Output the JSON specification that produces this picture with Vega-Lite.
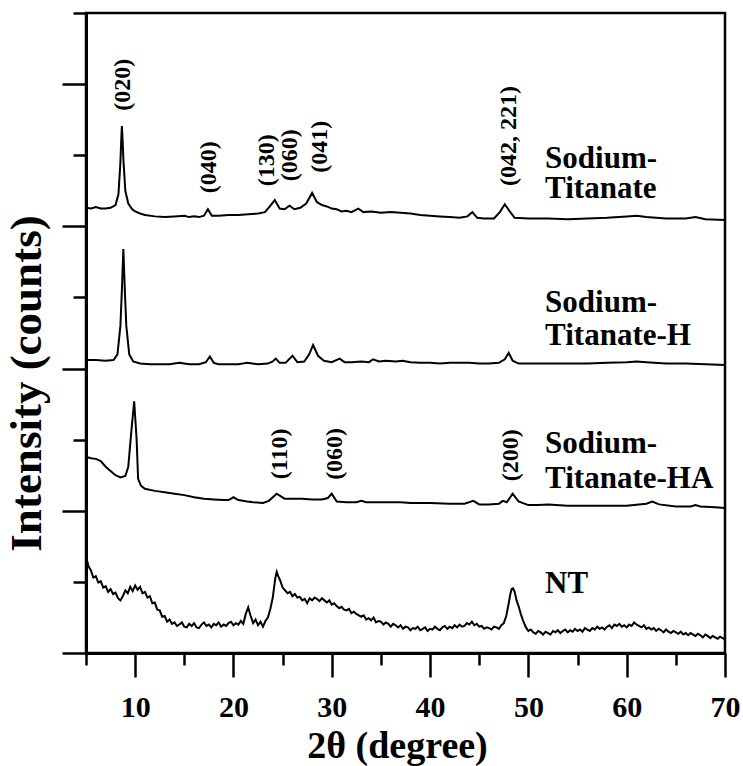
{
  "$schema": "https://vega.github.io/schema/vega-lite/v6.json",
  "width": 639,
  "height": 640,
  "autosize": {"type": "none"},
  "padding": {"left": 86, "top": 13, "right": 18, "bottom": 113},
  "background": "white",
  "config": {
    "view": {"stroke": "black", "strokeWidth": 2.5},
    "axis": {
      "grid": false,
      "domainColor": "black",
      "tickColor": "black",
      "domainWidth": 3,
      "tickWidth": 2.5,
      "labelFont": "Liberation Serif",
      "labelFontWeight": "bold",
      "labelFontSize": 30,
      "labelColor": "black",
      "titleFont": "Liberation Serif",
      "titleFontWeight": "bold",
      "titleColor": "black"
    }
  },
  "datasets": {
    "traces": [
      {"t":5,"i":6.26,"s":"ST"},{"t":5.5,"i":6.25,"s":"ST"},{"t":6,"i":6.27,"s":"ST"},{"t":6.5,"i":6.25,"s":"ST"},{"t":7,"i":6.25,"s":"ST"},{"t":7.5,"i":6.26,"s":"ST"},{"t":8,"i":6.3,"s":"ST"},{"t":8.3,"i":6.45,"s":"ST"},{"t":8.5,"i":6.9,"s":"ST"},{"t":8.58,"i":7.2,"s":"ST"},{"t":8.65,"i":7.41,"s":"ST"},{"t":8.72,"i":7.22,"s":"ST"},{"t":8.8,"i":6.95,"s":"ST"},{"t":9.0,"i":6.5,"s":"ST"},{"t":9.3,"i":6.32,"s":"ST"},{"t":9.7,"i":6.24,"s":"ST"},{"t":10,"i":6.21,"s":"ST"},{"t":10.5,"i":6.18,"s":"ST"},{"t":11,"i":6.16,"s":"ST"},{"t":12,"i":6.14,"s":"ST"},{"t":13,"i":6.13,"s":"ST"},{"t":14,"i":6.14,"s":"ST"},{"t":15,"i":6.15,"s":"ST"},{"t":15.5,"i":6.13,"s":"ST"},{"t":16,"i":6.14,"s":"ST"},{"t":16.5,"i":6.13,"s":"ST"},{"t":17,"i":6.15,"s":"ST"},{"t":17.4,"i":6.24,"s":"ST"},{"t":17.8,"i":6.15,"s":"ST"},{"t":18.5,"i":6.15,"s":"ST"},{"t":19.5,"i":6.16,"s":"ST"},{"t":20.5,"i":6.16,"s":"ST"},{"t":21.5,"i":6.17,"s":"ST"},{"t":22.5,"i":6.18,"s":"ST"},{"t":23.2,"i":6.2,"s":"ST"},{"t":23.7,"i":6.28,"s":"ST"},{"t":24.2,"i":6.37,"s":"ST"},{"t":24.7,"i":6.25,"s":"ST"},{"t":25.2,"i":6.24,"s":"ST"},{"t":25.7,"i":6.29,"s":"ST"},{"t":26.2,"i":6.24,"s":"ST"},{"t":26.8,"i":6.26,"s":"ST"},{"t":27.4,"i":6.32,"s":"ST"},{"t":28,"i":6.47,"s":"ST"},{"t":28.5,"i":6.34,"s":"ST"},{"t":29,"i":6.3,"s":"ST"},{"t":29.5,"i":6.28,"s":"ST"},{"t":30,"i":6.25,"s":"ST"},{"t":30.5,"i":6.24,"s":"ST"},{"t":31,"i":6.21,"s":"ST"},{"t":31.5,"i":6.22,"s":"ST"},{"t":32,"i":6.2,"s":"ST"},{"t":32.7,"i":6.25,"s":"ST"},{"t":33.2,"i":6.2,"s":"ST"},{"t":34,"i":6.21,"s":"ST"},{"t":35,"i":6.19,"s":"ST"},{"t":36,"i":6.2,"s":"ST"},{"t":37,"i":6.19,"s":"ST"},{"t":38,"i":6.18,"s":"ST"},{"t":39,"i":6.16,"s":"ST"},{"t":40,"i":6.15,"s":"ST"},{"t":41,"i":6.14,"s":"ST"},{"t":42,"i":6.13,"s":"ST"},{"t":43,"i":6.12,"s":"ST"},{"t":43.8,"i":6.14,"s":"ST"},{"t":44.3,"i":6.2,"s":"ST"},{"t":44.8,"i":6.12,"s":"ST"},{"t":45.5,"i":6.11,"s":"ST"},{"t":46.5,"i":6.11,"s":"ST"},{"t":47.1,"i":6.2,"s":"ST"},{"t":47.6,"i":6.31,"s":"ST"},{"t":48.1,"i":6.21,"s":"ST"},{"t":48.6,"i":6.12,"s":"ST"},{"t":50,"i":6.11,"s":"ST"},{"t":52,"i":6.11,"s":"ST"},{"t":54,"i":6.1,"s":"ST"},{"t":56,"i":6.11,"s":"ST"},{"t":58,"i":6.12,"s":"ST"},{"t":60,"i":6.14,"s":"ST"},{"t":61,"i":6.15,"s":"ST"},{"t":62,"i":6.13,"s":"ST"},{"t":64,"i":6.11,"s":"ST"},{"t":66,"i":6.11,"s":"ST"},{"t":67,"i":6.13,"s":"ST"},{"t":68,"i":6.1,"s":"ST"},{"t":70,"i":6.09,"s":"ST"},

      {"t":5,"i":4.12,"s":"STH"},{"t":6,"i":4.12,"s":"STH"},{"t":7,"i":4.11,"s":"STH"},{"t":7.8,"i":4.12,"s":"STH"},{"t":8.2,"i":4.2,"s":"STH"},{"t":8.5,"i":4.6,"s":"STH"},{"t":8.65,"i":5.1,"s":"STH"},{"t":8.8,"i":5.68,"s":"STH"},{"t":8.95,"i":5.1,"s":"STH"},{"t":9.1,"i":4.6,"s":"STH"},{"t":9.4,"i":4.2,"s":"STH"},{"t":9.8,"i":4.1,"s":"STH"},{"t":10.5,"i":4.07,"s":"STH"},{"t":11.5,"i":4.06,"s":"STH"},{"t":12.5,"i":4.06,"s":"STH"},{"t":13.5,"i":4.06,"s":"STH"},{"t":14.5,"i":4.08,"s":"STH"},{"t":15.5,"i":4.06,"s":"STH"},{"t":16.5,"i":4.06,"s":"STH"},{"t":17.2,"i":4.09,"s":"STH"},{"t":17.6,"i":4.17,"s":"STH"},{"t":18,"i":4.08,"s":"STH"},{"t":18.5,"i":4.06,"s":"STH"},{"t":19.5,"i":4.06,"s":"STH"},{"t":20.5,"i":4.06,"s":"STH"},{"t":21.4,"i":4.08,"s":"STH"},{"t":22.5,"i":4.06,"s":"STH"},{"t":23.5,"i":4.07,"s":"STH"},{"t":24,"i":4.1,"s":"STH"},{"t":24.3,"i":4.14,"s":"STH"},{"t":24.7,"i":4.08,"s":"STH"},{"t":25.3,"i":4.08,"s":"STH"},{"t":26,"i":4.18,"s":"STH"},{"t":26.5,"i":4.09,"s":"STH"},{"t":27.2,"i":4.1,"s":"STH"},{"t":27.7,"i":4.2,"s":"STH"},{"t":28.1,"i":4.33,"s":"STH"},{"t":28.6,"i":4.18,"s":"STH"},{"t":29.2,"i":4.11,"s":"STH"},{"t":30,"i":4.09,"s":"STH"},{"t":30.8,"i":4.14,"s":"STH"},{"t":31.3,"i":4.09,"s":"STH"},{"t":32,"i":4.09,"s":"STH"},{"t":33,"i":4.1,"s":"STH"},{"t":33.8,"i":4.09,"s":"STH"},{"t":34.2,"i":4.13,"s":"STH"},{"t":34.8,"i":4.1,"s":"STH"},{"t":35.5,"i":4.11,"s":"STH"},{"t":36.5,"i":4.1,"s":"STH"},{"t":37.2,"i":4.11,"s":"STH"},{"t":38,"i":4.09,"s":"STH"},{"t":39,"i":4.08,"s":"STH"},{"t":40,"i":4.08,"s":"STH"},{"t":41,"i":4.07,"s":"STH"},{"t":42,"i":4.08,"s":"STH"},{"t":43,"i":4.08,"s":"STH"},{"t":44,"i":4.08,"s":"STH"},{"t":45,"i":4.07,"s":"STH"},{"t":46,"i":4.07,"s":"STH"},{"t":47,"i":4.08,"s":"STH"},{"t":47.6,"i":4.13,"s":"STH"},{"t":48,"i":4.22,"s":"STH"},{"t":48.4,"i":4.11,"s":"STH"},{"t":49,"i":4.07,"s":"STH"},{"t":50,"i":4.07,"s":"STH"},{"t":52,"i":4.07,"s":"STH"},{"t":54,"i":4.07,"s":"STH"},{"t":56,"i":4.07,"s":"STH"},{"t":58,"i":4.08,"s":"STH"},{"t":60,"i":4.09,"s":"STH"},{"t":61,"i":4.1,"s":"STH"},{"t":62,"i":4.09,"s":"STH"},{"t":64,"i":4.07,"s":"STH"},{"t":66,"i":4.07,"s":"STH"},{"t":68,"i":4.06,"s":"STH"},{"t":70,"i":4.05,"s":"STH"},

      {"t":5,"i":2.76,"s":"STHA"},{"t":5.5,"i":2.74,"s":"STHA"},{"t":6,"i":2.73,"s":"STHA"},{"t":6.5,"i":2.7,"s":"STHA"},{"t":7,"i":2.62,"s":"STHA"},{"t":7.5,"i":2.56,"s":"STHA"},{"t":8,"i":2.5,"s":"STHA"},{"t":8.5,"i":2.47,"s":"STHA"},{"t":9,"i":2.49,"s":"STHA"},{"t":9.3,"i":2.62,"s":"STHA"},{"t":9.6,"i":3.1,"s":"STHA"},{"t":9.9,"i":3.54,"s":"STHA"},{"t":10.15,"i":3.0,"s":"STHA"},{"t":10.3,"i":2.45,"s":"STHA"},{"t":10.6,"i":2.35,"s":"STHA"},{"t":11,"i":2.31,"s":"STHA"},{"t":12,"i":2.28,"s":"STHA"},{"t":13,"i":2.26,"s":"STHA"},{"t":14,"i":2.24,"s":"STHA"},{"t":15,"i":2.22,"s":"STHA"},{"t":16,"i":2.19,"s":"STHA"},{"t":17,"i":2.17,"s":"STHA"},{"t":18,"i":2.16,"s":"STHA"},{"t":19,"i":2.15,"s":"STHA"},{"t":19.5,"i":2.15,"s":"STHA"},{"t":20,"i":2.19,"s":"STHA"},{"t":20.5,"i":2.15,"s":"STHA"},{"t":21.4,"i":2.13,"s":"STHA"},{"t":22,"i":2.12,"s":"STHA"},{"t":23,"i":2.11,"s":"STHA"},{"t":23.6,"i":2.14,"s":"STHA"},{"t":24.4,"i":2.24,"s":"STHA"},{"t":25.2,"i":2.17,"s":"STHA"},{"t":26,"i":2.17,"s":"STHA"},{"t":27,"i":2.17,"s":"STHA"},{"t":28,"i":2.16,"s":"STHA"},{"t":29,"i":2.16,"s":"STHA"},{"t":29.6,"i":2.18,"s":"STHA"},{"t":30,"i":2.24,"s":"STHA"},{"t":30.5,"i":2.13,"s":"STHA"},{"t":31.5,"i":2.12,"s":"STHA"},{"t":32.5,"i":2.12,"s":"STHA"},{"t":33,"i":2.14,"s":"STHA"},{"t":33.5,"i":2.12,"s":"STHA"},{"t":35,"i":2.12,"s":"STHA"},{"t":36,"i":2.12,"s":"STHA"},{"t":37,"i":2.12,"s":"STHA"},{"t":38,"i":2.11,"s":"STHA"},{"t":40,"i":2.11,"s":"STHA"},{"t":42,"i":2.1,"s":"STHA"},{"t":43.5,"i":2.1,"s":"STHA"},{"t":44.4,"i":2.14,"s":"STHA"},{"t":45,"i":2.09,"s":"STHA"},{"t":46,"i":2.09,"s":"STHA"},{"t":47,"i":2.1,"s":"STHA"},{"t":47.4,"i":2.14,"s":"STHA"},{"t":47.8,"i":2.12,"s":"STHA"},{"t":48.4,"i":2.24,"s":"STHA"},{"t":49,"i":2.13,"s":"STHA"},{"t":50,"i":2.08,"s":"STHA"},{"t":51,"i":2.08,"s":"STHA"},{"t":52,"i":2.09,"s":"STHA"},{"t":54,"i":2.07,"s":"STHA"},{"t":56,"i":2.07,"s":"STHA"},{"t":58,"i":2.07,"s":"STHA"},{"t":60,"i":2.07,"s":"STHA"},{"t":62,"i":2.1,"s":"STHA"},{"t":62.6,"i":2.13,"s":"STHA"},{"t":63.3,"i":2.09,"s":"STHA"},{"t":65,"i":2.06,"s":"STHA"},{"t":66.5,"i":2.06,"s":"STHA"},{"t":67,"i":2.08,"s":"STHA"},{"t":67.5,"i":2.06,"s":"STHA"},{"t":69,"i":2.05,"s":"STHA"},{"t":70,"i":2.04,"s":"STHA"},

      {"t":5,"i":1.36,"s":"NT"},{"t":5.25,"i":1.22,"s":"NT"},{"t":5.5,"i":1.16,"s":"NT"},{"t":5.75,"i":1.06,"s":"NT"},{"t":6,"i":1.08,"s":"NT"},{"t":6.25,"i":0.99,"s":"NT"},{"t":6.5,"i":1.01,"s":"NT"},{"t":6.75,"i":0.92,"s":"NT"},{"t":7,"i":0.94,"s":"NT"},{"t":7.25,"i":0.86,"s":"NT"},{"t":7.5,"i":0.9,"s":"NT"},{"t":7.75,"i":0.83,"s":"NT"},{"t":8,"i":0.85,"s":"NT"},{"t":8.25,"i":0.77,"s":"NT"},{"t":8.5,"i":0.74,"s":"NT"},{"t":8.75,"i":0.8,"s":"NT"},{"t":9,"i":0.88,"s":"NT"},{"t":9.25,"i":0.84,"s":"NT"},{"t":9.5,"i":0.93,"s":"NT"},{"t":9.75,"i":0.87,"s":"NT"},{"t":10,"i":0.95,"s":"NT"},{"t":10.25,"i":0.89,"s":"NT"},{"t":10.5,"i":0.93,"s":"NT"},{"t":10.75,"i":0.84,"s":"NT"},{"t":11,"i":0.86,"s":"NT"},{"t":11.25,"i":0.78,"s":"NT"},{"t":11.5,"i":0.8,"s":"NT"},{"t":11.75,"i":0.7,"s":"NT"},{"t":12,"i":0.71,"s":"NT"},{"t":12.25,"i":0.61,"s":"NT"},{"t":12.5,"i":0.6,"s":"NT"},{"t":12.75,"i":0.51,"s":"NT"},{"t":13,"i":0.52,"s":"NT"},{"t":13.25,"i":0.44,"s":"NT"},{"t":13.5,"i":0.47,"s":"NT"},
      {"t":13.75,"i":0.41,"s":"NT"},{"t":14,"i":0.43,"s":"NT"},{"t":14.25,"i":0.38,"s":"NT"},{"t":14.5,"i":0.4,"s":"NT"},{"t":14.75,"i":0.43,"s":"NT"},{"t":15,"i":0.37,"s":"NT"},{"t":15.25,"i":0.36,"s":"NT"},{"t":15.5,"i":0.41,"s":"NT"},{"t":15.75,"i":0.38,"s":"NT"},{"t":16,"i":0.42,"s":"NT"},{"t":16.25,"i":0.36,"s":"NT"},{"t":16.5,"i":0.35,"s":"NT"},{"t":16.75,"i":0.4,"s":"NT"},{"t":17,"i":0.43,"s":"NT"},{"t":17.25,"i":0.38,"s":"NT"},{"t":17.5,"i":0.4,"s":"NT"},{"t":17.75,"i":0.36,"s":"NT"},{"t":18,"i":0.41,"s":"NT"},{"t":18.25,"i":0.39,"s":"NT"},{"t":18.5,"i":0.43,"s":"NT"},{"t":18.75,"i":0.37,"s":"NT"},{"t":19,"i":0.4,"s":"NT"},{"t":19.25,"i":0.38,"s":"NT"},{"t":19.5,"i":0.42,"s":"NT"},{"t":19.75,"i":0.44,"s":"NT"},{"t":20,"i":0.39,"s":"NT"},{"t":20.25,"i":0.42,"s":"NT"},{"t":20.5,"i":0.4,"s":"NT"},{"t":20.75,"i":0.45,"s":"NT"},{"t":21,"i":0.41,"s":"NT"},
      {"t":21.25,"i":0.55,"s":"NT"},{"t":21.5,"i":0.64,"s":"NT"},{"t":21.75,"i":0.52,"s":"NT"},{"t":22,"i":0.42,"s":"NT"},{"t":22.25,"i":0.47,"s":"NT"},{"t":22.5,"i":0.39,"s":"NT"},{"t":22.75,"i":0.44,"s":"NT"},{"t":23,"i":0.37,"s":"NT"},{"t":23.25,"i":0.45,"s":"NT"},{"t":23.5,"i":0.5,"s":"NT"},{"t":23.75,"i":0.62,"s":"NT"},{"t":24,"i":0.78,"s":"NT"},{"t":24.25,"i":1.05,"s":"NT"},{"t":24.4,"i":1.14,"s":"NT"},{"t":24.55,"i":1.08,"s":"NT"},{"t":24.75,"i":1.02,"s":"NT"},
      {"t":25,"i":0.92,"s":"NT"},{"t":25.25,"i":0.88,"s":"NT"},{"t":25.5,"i":0.84,"s":"NT"},{"t":25.75,"i":0.86,"s":"NT"},{"t":26,"i":0.8,"s":"NT"},{"t":26.25,"i":0.83,"s":"NT"},{"t":26.5,"i":0.78,"s":"NT"},{"t":26.75,"i":0.79,"s":"NT"},{"t":27,"i":0.74,"s":"NT"},{"t":27.25,"i":0.76,"s":"NT"},{"t":27.5,"i":0.7,"s":"NT"},{"t":27.75,"i":0.77,"s":"NT"},{"t":28,"i":0.74,"s":"NT"},{"t":28.25,"i":0.78,"s":"NT"},{"t":28.5,"i":0.76,"s":"NT"},{"t":28.75,"i":0.73,"s":"NT"},{"t":29,"i":0.77,"s":"NT"},{"t":29.25,"i":0.74,"s":"NT"},{"t":29.5,"i":0.71,"s":"NT"},{"t":29.75,"i":0.74,"s":"NT"},{"t":30,"i":0.68,"s":"NT"},{"t":30.25,"i":0.7,"s":"NT"},{"t":30.5,"i":0.66,"s":"NT"},{"t":30.75,"i":0.63,"s":"NT"},{"t":31,"i":0.65,"s":"NT"},{"t":31.25,"i":0.61,"s":"NT"},{"t":31.5,"i":0.6,"s":"NT"},{"t":31.75,"i":0.62,"s":"NT"},{"t":32,"i":0.56,"s":"NT"},{"t":32.25,"i":0.58,"s":"NT"},{"t":32.5,"i":0.55,"s":"NT"},{"t":32.75,"i":0.53,"s":"NT"},
      {"t":33,"i":0.51,"s":"NT"},{"t":33.25,"i":0.53,"s":"NT"},{"t":33.5,"i":0.47,"s":"NT"},{"t":33.75,"i":0.49,"s":"NT"},{"t":34,"i":0.46,"s":"NT"},{"t":34.25,"i":0.5,"s":"NT"},{"t":34.5,"i":0.43,"s":"NT"},{"t":34.75,"i":0.45,"s":"NT"},{"t":35,"i":0.44,"s":"NT"},{"t":35.25,"i":0.4,"s":"NT"},{"t":35.5,"i":0.43,"s":"NT"},{"t":35.75,"i":0.41,"s":"NT"},{"t":36,"i":0.37,"s":"NT"},{"t":36.25,"i":0.41,"s":"NT"},{"t":36.5,"i":0.39,"s":"NT"},{"t":36.75,"i":0.36,"s":"NT"},{"t":37,"i":0.39,"s":"NT"},{"t":37.25,"i":0.34,"s":"NT"},{"t":37.5,"i":0.37,"s":"NT"},{"t":37.75,"i":0.36,"s":"NT"},{"t":38,"i":0.32,"s":"NT"},{"t":38.25,"i":0.35,"s":"NT"},{"t":38.5,"i":0.34,"s":"NT"},{"t":38.75,"i":0.37,"s":"NT"},{"t":39,"i":0.32,"s":"NT"},{"t":39.25,"i":0.34,"s":"NT"},{"t":39.5,"i":0.36,"s":"NT"},{"t":39.75,"i":0.31,"s":"NT"},{"t":40,"i":0.34,"s":"NT"},{"t":40.25,"i":0.33,"s":"NT"},{"t":40.5,"i":0.37,"s":"NT"},{"t":40.75,"i":0.34,"s":"NT"},{"t":41,"i":0.32,"s":"NT"},{"t":41.25,"i":0.36,"s":"NT"},{"t":41.5,"i":0.38,"s":"NT"},{"t":41.75,"i":0.34,"s":"NT"},{"t":42,"i":0.37,"s":"NT"},{"t":42.25,"i":0.35,"s":"NT"},{"t":42.5,"i":0.39,"s":"NT"},{"t":42.75,"i":0.36,"s":"NT"},{"t":43,"i":0.4,"s":"NT"},{"t":43.25,"i":0.37,"s":"NT"},{"t":43.5,"i":0.38,"s":"NT"},{"t":43.75,"i":0.42,"s":"NT"},{"t":44,"i":0.4,"s":"NT"},{"t":44.25,"i":0.44,"s":"NT"},{"t":44.5,"i":0.39,"s":"NT"},{"t":44.75,"i":0.41,"s":"NT"},{"t":45,"i":0.37,"s":"NT"},{"t":45.25,"i":0.38,"s":"NT"},{"t":45.5,"i":0.34,"s":"NT"},{"t":45.75,"i":0.36,"s":"NT"},{"t":46,"i":0.35,"s":"NT"},{"t":46.25,"i":0.33,"s":"NT"},{"t":46.5,"i":0.37,"s":"NT"},{"t":46.75,"i":0.36,"s":"NT"},{"t":47,"i":0.34,"s":"NT"},{"t":47.25,"i":0.39,"s":"NT"},
      {"t":47.5,"i":0.42,"s":"NT"},{"t":47.75,"i":0.52,"s":"NT"},{"t":48,"i":0.7,"s":"NT"},{"t":48.15,"i":0.82,"s":"NT"},{"t":48.3,"i":0.9,"s":"NT"},{"t":48.45,"i":0.91,"s":"NT"},{"t":48.6,"i":0.86,"s":"NT"},{"t":48.8,"i":0.74,"s":"NT"},{"t":49,"i":0.66,"s":"NT"},{"t":49.25,"i":0.54,"s":"NT"},{"t":49.5,"i":0.44,"s":"NT"},{"t":49.75,"i":0.36,"s":"NT"},
      {"t":50,"i":0.31,"s":"NT"},{"t":50.25,"i":0.33,"s":"NT"},{"t":50.5,"i":0.29,"s":"NT"},{"t":50.75,"i":0.27,"s":"NT"},{"t":51,"i":0.31,"s":"NT"},{"t":51.25,"i":0.29,"s":"NT"},{"t":51.5,"i":0.26,"s":"NT"},{"t":51.75,"i":0.3,"s":"NT"},{"t":52,"i":0.28,"s":"NT"},{"t":52.25,"i":0.26,"s":"NT"},{"t":52.5,"i":0.31,"s":"NT"},{"t":52.75,"i":0.29,"s":"NT"},{"t":53,"i":0.32,"s":"NT"},{"t":53.25,"i":0.28,"s":"NT"},{"t":53.5,"i":0.31,"s":"NT"},{"t":53.75,"i":0.33,"s":"NT"},{"t":54,"i":0.29,"s":"NT"},{"t":54.25,"i":0.32,"s":"NT"},{"t":54.5,"i":0.3,"s":"NT"},{"t":54.75,"i":0.34,"s":"NT"},{"t":55,"i":0.31,"s":"NT"},{"t":55.25,"i":0.33,"s":"NT"},{"t":55.5,"i":0.3,"s":"NT"},{"t":55.75,"i":0.35,"s":"NT"},{"t":56,"i":0.33,"s":"NT"},{"t":56.25,"i":0.31,"s":"NT"},{"t":56.5,"i":0.35,"s":"NT"},{"t":56.75,"i":0.33,"s":"NT"},{"t":57,"i":0.37,"s":"NT"},{"t":57.25,"i":0.34,"s":"NT"},{"t":57.5,"i":0.36,"s":"NT"},{"t":57.75,"i":0.33,"s":"NT"},{"t":58,"i":0.37,"s":"NT"},{"t":58.25,"i":0.39,"s":"NT"},{"t":58.5,"i":0.35,"s":"NT"},{"t":58.75,"i":0.4,"s":"NT"},{"t":59,"i":0.38,"s":"NT"},{"t":59.25,"i":0.41,"s":"NT"},{"t":59.5,"i":0.37,"s":"NT"},{"t":59.75,"i":0.39,"s":"NT"},{"t":60,"i":0.36,"s":"NT"},{"t":60.25,"i":0.4,"s":"NT"},{"t":60.5,"i":0.38,"s":"NT"},{"t":60.75,"i":0.43,"s":"NT"},{"t":61,"i":0.4,"s":"NT"},{"t":61.25,"i":0.38,"s":"NT"},{"t":61.5,"i":0.36,"s":"NT"},{"t":61.75,"i":0.39,"s":"NT"},{"t":62,"i":0.34,"s":"NT"},{"t":62.25,"i":0.36,"s":"NT"},{"t":62.5,"i":0.33,"s":"NT"},{"t":62.75,"i":0.35,"s":"NT"},{"t":63,"i":0.31,"s":"NT"},{"t":63.25,"i":0.34,"s":"NT"},{"t":63.5,"i":0.32,"s":"NT"},{"t":63.75,"i":0.29,"s":"NT"},{"t":64,"i":0.33,"s":"NT"},{"t":64.25,"i":0.3,"s":"NT"},{"t":64.5,"i":0.28,"s":"NT"},{"t":64.75,"i":0.31,"s":"NT"},{"t":65,"i":0.29,"s":"NT"},{"t":65.25,"i":0.27,"s":"NT"},{"t":65.5,"i":0.3,"s":"NT"},{"t":65.75,"i":0.26,"s":"NT"},{"t":66,"i":0.28,"s":"NT"},{"t":66.25,"i":0.25,"s":"NT"},{"t":66.5,"i":0.28,"s":"NT"},{"t":66.75,"i":0.26,"s":"NT"},{"t":67,"i":0.24,"s":"NT"},{"t":67.25,"i":0.27,"s":"NT"},{"t":67.5,"i":0.25,"s":"NT"},{"t":67.75,"i":0.22,"s":"NT"},{"t":68,"i":0.26,"s":"NT"},{"t":68.25,"i":0.24,"s":"NT"},{"t":68.5,"i":0.21,"s":"NT"},{"t":68.75,"i":0.24,"s":"NT"},{"t":69,"i":0.22,"s":"NT"},{"t":69.25,"i":0.2,"s":"NT"},{"t":69.5,"i":0.23,"s":"NT"},{"t":69.75,"i":0.21,"s":"NT"},{"t":70,"i":0.19,"s":"NT"}
    ],
    "planes": [
      {"t":8.8,"i":7.99,"label":"(020)"},
      {"t":17.5,"i":6.83,"label":"(040)"},
      {"t":23.4,"i":6.93,"label":"(130)"},
      {"t":25.8,"i":7.0,"label":"(060)"},
      {"t":28.8,"i":7.12,"label":"(041)"},
      {"t":48.0,"i":7.27,"label":"(042, 221)"},
      {"t":24.7,"i":2.8,"label":"(110)"},
      {"t":30.3,"i":2.8,"label":"(060)"},
      {"t":48.2,"i":2.78,"label":"(200)"}
    ],
    "names": [
      {"t":51.7,"i":6.82,"label":"Sodium-"},
      {"t":51.7,"i":6.4,"label":"Titanate"},
      {"t":51.7,"i":4.8,"label":"Sodium-"},
      {"t":51.7,"i":4.33,"label":"Titanate-H"},
      {"t":51.7,"i":2.81,"label":"Sodium-"},
      {"t":51.7,"i":2.32,"label":"Titanate-HA"},
      {"t":51.7,"i":0.84,"label":"NT"}
    ]
  },
  "resolve": {"axis": {"x": "independent", "y": "independent"}},
  "layer": [
    {
      "data": {"name": "traces"},
      "mark": {"type": "line", "color": "black", "strokeWidth": 2},
      "encoding": {
        "x": {
          "field": "t", "type": "quantitative",
          "scale": {"domain": [5, 70], "nice": false, "zero": false},
          "axis": {
            "orient": "bottom",
            "values": [10, 20, 30, 40, 50, 60, 70],
            "tickSize": 24,
            "labelPadding": 39,
            "labelBaseline": "alphabetic",
            "labelFlush": false,
            "labelOverlap": false,
            "title": "2θ (degree)",
            "titleFontSize": 38,
            "titleX": 311,
            "titleY": 104,
            "titleBaseline": "alphabetic",
            "titleAlign": "center"
          }
        },
        "y": {
          "field": "i", "type": "quantitative",
          "scale": {"domain": [0, 9], "nice": false, "zero": false},
          "axis": {
            "orient": "left",
            "values": [0, 2, 4, 6, 8],
            "tickSize": 24,
            "labels": false,
            "title": "Intensity (counts)",
            "titleFontSize": 45,
            "titleX": -46,
            "titleY": 370,
            "titleAngle": 270,
            "titleBaseline": "alphabetic",
            "titleAlign": "center"
          }
        },
        "detail": {"field": "s", "type": "nominal"}
      }
    },
    {
      "data": {"name": "planes"},
      "mark": {"type": "text", "angle": 270, "font": "Liberation Serif", "fontWeight": "bold", "fontSize": 24, "align": "center", "baseline": "middle", "color": "black"},
      "encoding": {
        "x": {
          "field": "t", "type": "quantitative",
          "axis": {"orient": "bottom", "values": [5, 15, 25, 35, 45, 55, 65], "tickSize": 12, "labels": false, "domain": false, "title": null}
        },
        "y": {
          "field": "i", "type": "quantitative",
          "axis": {"orient": "left", "values": [1, 3, 5, 7, 9], "tickSize": 13, "labels": false, "domain": false, "title": null}
        },
        "text": {"field": "label", "type": "nominal"}
      }
    },
    {
      "data": {"name": "names"},
      "mark": {"type": "text", "font": "Liberation Serif", "fontWeight": "bold", "fontSize": 31, "align": "left", "baseline": "alphabetic", "color": "black"},
      "encoding": {
        "x": {"field": "t", "type": "quantitative", "axis": {"orient": "bottom", "domain": false, "ticks": false, "labels": false, "title": null}},
        "y": {"field": "i", "type": "quantitative", "axis": {"orient": "left", "domain": false, "ticks": false, "labels": false, "title": null}},
        "text": {"field": "label", "type": "nominal"}
      }
    }
  ]
}
